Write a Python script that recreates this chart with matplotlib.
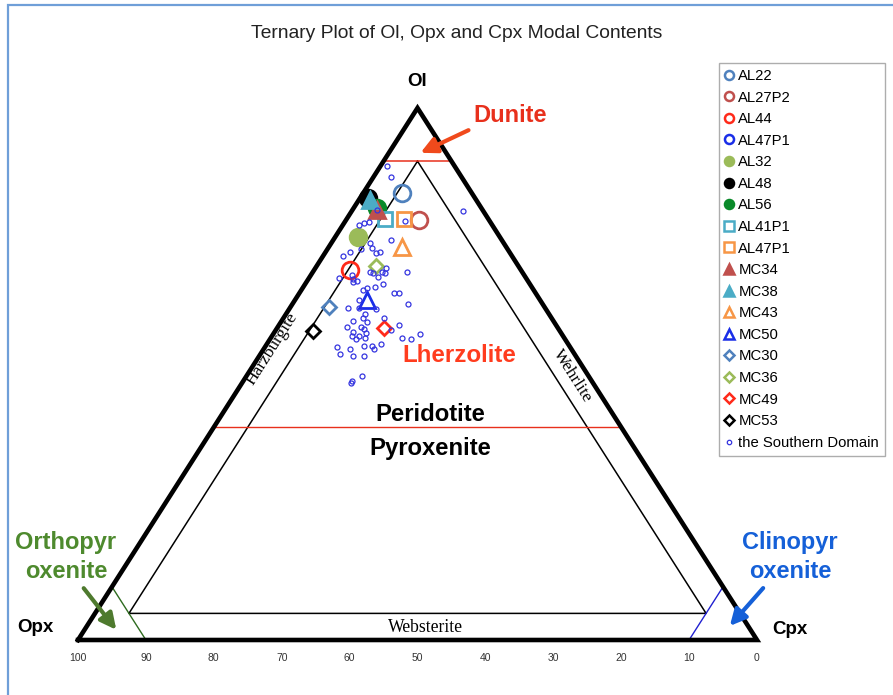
import matplotlib
matplotlib.use("Agg")
import matplotlib.pyplot as plt
from matplotlib.lines import Line2D
from matplotlib.patches import Rectangle

plt.rcParams['font.family'] = ['Liberation Sans', 'DejaVu Sans']

# named samples: Ol, Opx, Cpx (modal %)
samples = ["AL22", "AL27P2", "AL44", "AL47P1", "AL32", "AL48", "AL56", "AL41P1", "AL47P1",
           "MC34", "MC38", "MC43", "MC50", "MC30", "MC36", "MC49", "MC53"]
ol = [84.1, 79.0, 69.6, None, 75.7, 83.0, 81.2, 79.1, 79.1,
      80.8, 82.7, 73.9, 63.9, 62.5, 70.3, 58.6, 58.1]
opx = [10.3, 10.3, 25.1, None, 20.9, 15.8, 15.3, 15.2, 12.4,
       15.5, 15.6, 15.4, 25.5, 31.8, 21.0, 25.7, 36.3]
cpx = [5.6, 10.7, 5.3, None, 3.4, 1.2, 3.5, 5.7, 8.5,
       3.7, 1.7, 10.7, 10.6, 5.7, 8.7, 15.7, 5.6]
markers = ["o", "o", "o", "o", "o", "o", "o", "s", "s",
           "^", "^", "^", "^", "D", "D", "D", "D"]
colors = ["#4f81bd", "#c0504d", "#ff2a1a", "#1a2ee8", "#9bbb59", "#000000", "#0a8a2a", "#4bacc6", "#f79646",
          "#c0504d", "#4bacc6", "#f79646", "#1a2ee8", "#4f81bd", "#9bbb59", "#ff2a1a", "#000000"]
filled = [False, False, False, False, True, True, True, False, False,
          True, True, False, False, False, False, False, False]

# the Southern Domain: Ol and Cpx (Opx = 100 - Ol - Cpx)
sd_ol = [89.1, 87.0, 80.7, 80.8, 78.6, 78.3, 78.0, 78.8, 75.1, 74.7, 73.6, 73.5, 72.2, 73.0,
         72.7, 72.9, 69.1, 68.1, 67.8, 67.2, 67.5, 68.6, 69.2, 69.0, 68.2, 69.2, 68.9, 69.9,
         66.1, 65.8, 66.3, 66.9, 65.2, 65.3, 63.9, 63.1, 62.4, 62.4, 62.2, 61.2, 60.0, 60.5,
         59.8, 60.6, 58.9, 58.9, 58.5, 57.8, 57.1, 57.2, 56.6, 56.7, 57.7, 58.3, 59.2, 56.8,
         56.6, 57.5, 55.1, 54.7, 55.3, 55.3, 54.7, 55.6, 53.7, 53.4, 53.4, 48.7, 48.3, 49.6]
sd_cpx = [0.9, 2.6, 16.3, 3.7, 3.5, 3.0, 2.4, 8.8, 8.5, 5.6, 6.5, 4.9, 2.9, 3.6,
          7.6, 8.0, 13.9, 4.4, 6.6, 6.9, 7.4, 6.0, 8.4, 8.9, 10.1, 10.1, 10.7, 10.4,
          9.5, 9.1, 10.6, 11.4, 13.9, 14.6, 9.5, 17.1, 8.6, 10.2, 12.8, 11.7, 10.5, 11.7,
          12.6, 14.7, 10.2, 12.2, 12.9, 11.6, 11.8, 12.8, 12.6, 13.9, 13.6, 16.9, 17.7, 19.3,
          20.7, 21.6, 10.6, 12.7, 14.5, 15.6, 16.2, 16.8, 11.8, 13.8, 15.4, 16.0, 16.1, 17.0]

opx_ticks = [100, 90, 80, 70, 60, 50, 40, 30, 20, 10, 0]


def tern(o, c):
    # x = Cpx + Ol/2, y = Ol
    return c + o / 2.0, o


def fpos(xp, yp):
    # figure pixel -> figure fraction
    return xp / 893.0, 1 - yp / 695.0


fig = plt.figure(figsize=(8.93, 6.95), dpi=100)
ax = fig.add_axes([0, 0, 1, 1])
ax.set_xlim(-11.49, 120.03)
ax.set_ylim(-10.34, 120.3)
ax.axis("off")

# frame around the picture
fig.patches.append(Rectangle(fpos(8, 720), 1.2, 715 / 695.0, transform=fig.transFigure,
                             fill=False, edgecolor="#6f9fd8", lw=1.6))

# outer triangle
ax.plot([0, 100, 50, 0], [0, 0, 100, 0], color="black", lw=3.3, solid_joinstyle="miter", zorder=3)

# field boundaries
iv = [tern(90, 5), tern(5, 5), tern(5, 90), tern(90, 5)]
ax.plot([p[0] for p in iv], [p[1] for p in iv], color="black", lw=1.1, zorder=2)
a, b = tern(90, 0), tern(90, 10)
ax.plot([a[0], b[0]], [a[1], b[1]], color="#e8301c", lw=1.1, zorder=2)
a, b = tern(40, 0), tern(40, 60)
ax.plot([a[0], b[0]], [a[1], b[1]], color="#e8301c", lw=1.0, zorder=2)
a, b = tern(0, 10), tern(10, 0)
ax.plot([a[0], b[0]], [a[1], b[1]], color="#2e6b1f", lw=1.0, zorder=2)
a, b = tern(0, 90), tern(10, 90)
ax.plot([a[0], b[0]], [a[1], b[1]], color="#2020d0", lw=1.0, zorder=2)

# bottom tick labels (Opx %)
for t in opx_ticks:
    ax.text(100 - t, -3.3, str(t), ha="center", va="center", fontsize=7.5, color="#333333")

# samples
handles = []
for i in range(len(samples)):
    fc = colors[i] if filled[i] else "none"
    ms = {"o": 12, "s": 10.5, "^": 12, "D": 7.5}[markers[i]]
    if ol[i] is not None:
        x, y = tern(ol[i], cpx[i])
        ax.plot(x, y, marker=markers[i], ms=ms, mfc=fc, mec=colors[i], mew=2.0,
                ls="none", zorder=4 + i * 0.01)
    lms = {"o": 6.5, "s": 6.5, "^": 7, "D": 4.8}[markers[i]]
    handles.append(Line2D([], [], marker=markers[i], ms=lms, mfc=fc, mec=colors[i], mew=1.8,
                          ls="none", label=samples[i]))

sx = [tern(o, c)[0] for o, c in zip(sd_ol, sd_cpx)]
sy = [tern(o, c)[1] for o, c in zip(sd_ol, sd_cpx)]
ax.plot(sx, sy, "o", ms=3.6, mfc="none", mec="#3535e0", mew=0.9, zorder=6)
handles.append(Line2D([], [], marker="o", ms=3.2, mfc="none", mec="#3535e0", mew=0.9,
                      ls="none", label="the Southern Domain"))

leg = fig.legend(handles=handles, loc="upper left", bbox_to_anchor=fpos(719, 63),
                 fontsize=10.7, frameon=True, fancybox=False, edgecolor="#999999",
                 handlelength=0.6, handletextpad=0.3, labelspacing=0.51, borderpad=0.4,
                 borderaxespad=0)
leg.get_frame().set_linewidth(1.0)

# texts
fig.text(*fpos(457, 33), "Ternary Plot of Ol, Opx and Cpx Modal Contents", ha="center",
         va="center", fontsize=13.9, color="#222222")
fig.text(*fpos(417, 82), "Ol", ha="center", va="center", fontsize=13.5, fontweight="bold")
fig.text(*fpos(510, 115), "Dunite", ha="center", va="center", fontsize=17,
         fontweight="bold", color="#e8301c")
ax.annotate("", xy=fpos(418, 154), xytext=fpos(471, 129), xycoords="figure fraction",
            textcoords="figure fraction",
            arrowprops=dict(arrowstyle="-|>", color="#f04a1c", lw=3, mutation_scale=24))
fig.text(*fpos(459, 356), "Lherzolite", ha="center", va="center", fontsize=17.4,
         fontweight="bold", color="#ff3c1e")
fig.text(*fpos(272, 349), "Harzburgite", ha="center", va="center", fontsize=12.5,
         rotation=57.5, family="Liberation Serif")
fig.text(*fpos(572, 376), "Wehrlite", ha="center", va="center", fontsize=12.5,
         rotation=-57.5, family="Liberation Serif")
fig.text(*fpos(430, 414), "Peridotite", ha="center", va="center", fontsize=17.2,
         fontweight="bold")
fig.text(*fpos(430, 449), "Pyroxenite", ha="center", va="center", fontsize=17.2,
         fontweight="bold")
fig.text(*fpos(425, 628), "Websterite", ha="center", va="center", fontsize=12.7,
         family="Liberation Serif")
fig.text(*fpos(66, 557), "Orthopyr\noxenite", ha="center", va="center", fontsize=17,
         fontweight="bold", color="#4e8a2e", linespacing=1.32)
ax.annotate("", xy=fpos(118, 632), xytext=fpos(82, 586), xycoords="figure fraction",
            textcoords="figure fraction",
            arrowprops=dict(arrowstyle="-|>", color="#4e7a2e", lw=3, mutation_scale=24))
fig.text(*fpos(790, 557), "Clinopyr\noxenite", ha="center", va="center", fontsize=17,
         fontweight="bold", color="#1560d8", linespacing=1.32)
ax.annotate("", xy=fpos(728, 628), xytext=fpos(765, 586), xycoords="figure fraction",
            textcoords="figure fraction",
            arrowprops=dict(arrowstyle="-|>", color="#1560d8", lw=3, mutation_scale=24))
fig.text(*fpos(35, 627), "Opx", ha="center", va="center", fontsize=13.5, fontweight="bold")
fig.text(*fpos(790, 630), "Cpx", ha="center", va="center", fontsize=13.5, fontweight="bold")

fig.savefig("out.png", dpi=100)
